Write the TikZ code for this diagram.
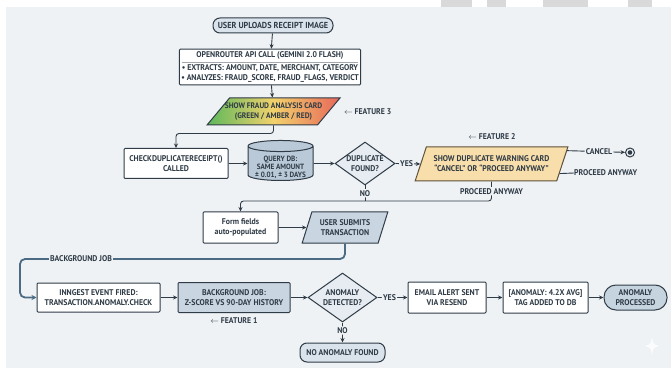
\documentclass[tikz,border=0pt]{standalone}
\usepackage{fontspec}
\setmainfont{PT Sans}[FakeStretch=0.94]
\usepackage{tikz}
\usetikzlibrary{shapes, arrows.meta, positioning, calc}

\definecolor{ink}{HTML}{2F3B46}
\definecolor{panel}{HTML}{EEF2F5}
\definecolor{termfill}{HTML}{DAE3EB}
\definecolor{donefill}{HTML}{C6D4E0}
\definecolor{dbfill}{HTML}{B9C9D7}
\definecolor{decfill}{HTML}{E6ECF1}
\definecolor{jobfill}{HTML}{C9D6E2}
\definecolor{warnfill}{HTML}{F8DEAA}
\definecolor{warnink}{HTML}{5E5038}
\definecolor{bgblue}{HTML}{4B6A84}
\definecolor{fgreen}{HTML}{5CB85C}
\definecolor{famber}{HTML}{F2D16B}
\definecolor{fred}{HTML}{E8675A}
\definecolor{wmark}{HTML}{D9D9D9}

\tikzset{
  base/.style={draw=ink, line width=1pt, text=ink, align=center,
    font=\bfseries\fontsize{8.3}{10}\selectfont, inner sep=1pt},
  term/.style={base, rectangle, rounded corners=7pt, fill=termfill},
  procbox/.style={base, rectangle, rounded corners=1pt, fill=white},
  iobox/.style={base, trapezium, trapezium stretches=true},
  decide/.style={base, diamond, aspect=1.4, inner sep=0pt, fill=decfill},
  dbase/.style={base, cylinder, shape border rotate=90, aspect=0.2, inner sep=0pt, fill=dbfill},
  link/.style={draw=ink, line width=0.9pt, rounded corners=3pt,
    -{Stealth[length=4.5pt,width=4pt]}},
  flow/.style={draw=ink, line width=0.9pt, rounded corners=3pt},
  bgline/.style={draw=bgblue, line width=1.8pt, rounded corners=5pt,
    -{Stealth[length=5pt,width=5pt]}},
  lbl/.style={fill=panel, text=ink, inner sep=1.2pt, font=\bfseries\fontsize{8.3}{10}\selectfont},
  note/.style={text=ink, inner sep=0pt, font=\bfseries\fontsize{8.3}{10}\selectfont},
}

\begin{document}
\begin{tikzpicture}[x=1pt,y=-1pt]
  \def\rowA{163.5}
  \def\rowB{297.5}
  \def\joinY{201}

  \useasboundingbox (0,0) rectangle (671,371);
  \fill[panel] (6,7.5) rectangle (671,368);
  \fill[wmark] (441,0) rectangle (472,7.5);
  \fill[wmark] (487,0) rectangle (506,7.5);
  \fill[wmark] (543,0) rectangle (588,7.5);
  \fill[wmark] (628,0) rectangle (652,7.5);
  \fill[white, opacity=0.8] (652,336) .. controls (653,344) .. (659,346)
    .. controls (653,348) .. (652,356) .. controls (651,348) .. (645,346)
    .. controls (651,344) .. (652,336);

  \node[term, minimum width=120pt, minimum height=15pt, font=\bfseries\fontsize{8.7}{10}\selectfont]
    (start) at (273,25.5) {USER UPLOADS RECEIPT IMAGE};
  \node[procbox, rectangle split, rectangle split parts=2, rectangle split draw splits=false,
    rectangle split part align={center,left}, minimum width=180pt, inner sep=2pt]
    (api) at (270,67) {OPENROUTER API CALL (GEMINI 2.0 FLASH)
    \nodepart{two}\textbullet\ EXTRACTS: AMOUNT, DATE, MERCHANT, CATEGORY\\
    \textbullet\ ANALYZES: FRAUD\_SCORE, FRAUD\_FLAGS, VERDICT};
  \draw[ink!45, line width=0.5pt] ([xshift=3pt]api.one split west) -- ([xshift=-3pt]api.one split east);
  \node[iobox, trapezium left angle=46, trapezium right angle=134, inner xsep=-12pt,
    minimum width=133pt, minimum height=27pt, left color=fgreen, right color=fred, middle color=famber,
    font=\bfseries\fontsize{8}{10}\selectfont]
    (fraud) at (273.5,111.5) {SHOW FRAUD ANALYSIS CARD\\(GREEN / AMBER / RED)};
  \node[note, anchor=west] (f3) at (344,112) {$\leftarrow$ FEATURE 3};

  \node[procbox, minimum width=104pt, minimum height=30pt] (chk) at (176,\rowA)
    {CHECKDUPLICATERECEIPT()\\CALLED};
  \node[dbase, minimum width=65pt, minimum height=40pt] (db) at (280.5,\rowA)
    {\phantom{± 0.01, ± 3 DAYS}};
  \node[note, align=center, font=\bfseries\fontsize{7.6}{8}\selectfont] (dbtext) at (280.5,167)
    {QUERY DB:\\SAME AMOUNT\\± 0.01, ± 3 DAYS};
  \node[decide, minimum width=60pt, minimum height=43pt] (dup) at (365,\rowA)
    {DUPLICATE\\FOUND?};
  \node[iobox, trapezium left angle=62, trapezium right angle=118, draw=warnink,
    fill=warnfill, inner xsep=-2pt, minimum width=153pt, minimum height=34pt]
    (warn) at (491.5,164) {SHOW DUPLICATE WARNING CARD\\``CANCEL'' OR ``PROCEED ANYWAY''};
  \node[note] (f2) at (492,137) {$\leftarrow$ FEATURE 2};
  \node[circle, draw=ink, line width=1pt, inner sep=0pt, minimum size=9pt] (stop) at (630,152.5) {};
  \fill[ink] (stop) circle (2.3pt);
  \node[note, anchor=west] (goon) at (574,173) {PROCEED ANYWAY};
  \coordinate (nojoin) at (365,\joinY);

  \node[procbox, minimum width=75pt, minimum height=31pt]
    (form) at (240.5,227.5) {Form fields\\auto-populated};
  \node[iobox, trapezium left angle=67, trapezium right angle=113, fill=jobfill,
    minimum width=86pt, minimum height=31pt] (submit) at (345,227.5)
    {USER SUBMITS\\TRANSACTION};
  \coordinate (bgturn) at (20,259);

  \node[procbox, minimum width=123pt, minimum height=29pt] (fire) at (98.5,\rowB)
    {INNGEST EVENT FIRED:\\TRANSACTION.ANOMALY.CHECK};
  \node[procbox, fill=jobfill, minimum width=112pt, minimum height=30pt] (job) at (234,\rowB)
    {BACKGROUND JOB:\\Z-SCORE VS 90-DAY HISTORY};
  \node[note] (f1) at (234,321) {$\leftarrow$ FEATURE 1};
  \node[decide, minimum width=69pt, minimum height=49pt] (anom) at (342.5,\rowB)
    {ANOMALY\\DETECTED?};
  \node[term, minimum width=85pt, minimum height=19pt] (noan) at (342.5,352.5)
    {NO ANOMALY FOUND};
  \node[procbox, minimum width=78pt, minimum height=31pt] (email) at (447,\rowB)
    {EMAIL ALERT SENT\\VIA RESEND};
  \node[procbox, minimum width=85pt, minimum height=31pt] (tag) at (545.5,\rowB)
    {[ANOMALY: 4.2X AVG]\\TAG ADDED TO DB};
  \node[term, fill=donefill, rounded corners=12pt, minimum width=63pt, minimum height=25pt]
    (done) at (635.5,\rowB) {ANOMALY\\PROCESSED};

  \draw[link] (start) -- (api);
  \draw[link] (api) -- (fraud);
  \draw[link] (fraud.south) -- ++(0,8) -| (chk.north);
  \draw[link] (chk) -- (db);
  \draw[link] (db) -- (dup);
  \draw[link] (dup.east) -- node[lbl, pos=0.45] {YES} (warn.west);
  \draw[link] (warn.10) -- node[lbl, pos=0.55] {CANCEL} (stop);
  \draw[flow] (warn.-8) -- (goon.west);
  \draw[link] (warn.south) -- node[lbl] {PROCEED ANYWAY} (warn.south |- nojoin) -| (form.north);
  \draw[flow] (dup.south) -- node[lbl] {NO} (nojoin);
  \draw[link] (form) -- (submit);
  \draw[bgline] (submit.south) |- (bgturn) |- (fire.west);
  \node[lbl] (bglbl) at (81,259) {BACKGROUND JOB};
  \draw[link] (fire) -- (job);
  \draw[link] (job) -- (anom);
  \draw[link] (anom.east) -- node[lbl, pos=0.4] {YES} (email.west);
  \draw[link] (anom.south) -- node[lbl, pos=0.4] {NO} (noan.north);
  \draw[link] (email) -- (tag);
  \draw[link] (tag) -- (done);
\end{tikzpicture}
\end{document}
